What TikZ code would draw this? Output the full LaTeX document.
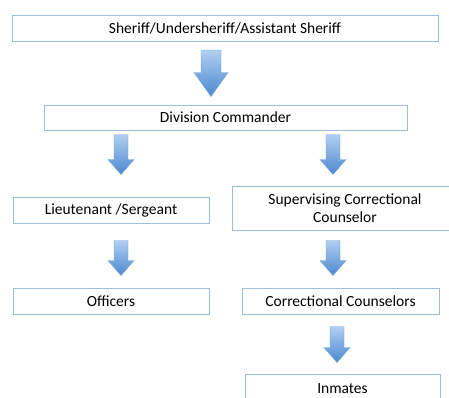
\documentclass[tikz,border=0pt]{standalone}
\usepackage{fontspec}
\setmainfont{Carlito}
\usepackage{tikz}
\usetikzlibrary{calc}
\definecolor{edge}{RGB}{158, 189, 226}
\definecolor{lightblue}{RGB}{176, 206, 242}
\definecolor{darkblue}{RGB}{76, 137, 208}
\definecolor{rim}{RGB}{112, 160, 214}

% block arrow: start, end, half shaft, half head, head length
\newcommand{\flowarrow}[5]{%
  \path[draw=rim, line width=0.4pt, top color=lightblue, bottom color=darkblue]
    let \p1=(#1), \p2=(#2) in
    (\x1-#3,\y1) -- (\x1+#3,\y1) -- (\x1+#3,\y2+#5) -- (\x1+#4,\y2+#5)
    -- (\x1,\y2) -- (\x1-#4,\y2+#5) -- (\x1-#3,\y2+#5) -- cycle;}

\begin{document}
\begin{tikzpicture}[x=1pt, y=-1pt,
    box/.style={draw=edge, line width=1pt, fill=white, inner sep=0pt,
      align=center, font=\fontsize{15.5}{18.5}\selectfont}]
  \path[use as bounding box, clip] (0,0) rectangle (449,397);

  \node[box, minimum width=426, minimum height=26] (sheriff) at (225,28.5) {Sheriff/Undersheriff/Assistant Sheriff};
  \node[box, minimum width=363, minimum height=25] (division) at (225.5,117.5) {Division Commander};

  \node[box, minimum width=196, minimum height=26] (lieutenant) at (111,210) {Lieutenant /Sergeant};
  \node[box, minimum width=226, minimum height=44] (supervising) at (345,208) {Supervising Correctional\\Counselor};

  \node[box, minimum width=196, minimum height=26] (officers) at (111,301) {Officers};
  \node[box, minimum width=197, minimum height=26] (counselors) at (340.5,301) {Correctional Counselors};

  \node[box, minimum width=195, minimum height=30] (inmates) at (342.5,389) {Inmates};

  \flowarrow{$(sheriff.south)+(-14,8)$}{$(division.north)+(-14,-8)$}{10}{17}{24}
  \flowarrow{$(lieutenant.north |- division.south)+(10,4)$}{$(lieutenant.north)+(10,-22)$}{7}{13}{15}
  \flowarrow{$(supervising.north |- division.south)+(-12,4)$}{$(supervising.north)+(-12,-11)$}{7}{13}{15}
  \flowarrow{$(lieutenant.south)+(10,17)$}{$(officers.north)+(10,-12)$}{7}{13}{15}
  \flowarrow{$(supervising.south)+(-12,10)$}{$(counselors.north)+(-7.5,-12)$}{7}{13}{15}
  \flowarrow{$(counselors.south)+(-3.5,12)$}{$(inmates.north)+(-5.5,-11)$}{7}{13}{15}

\end{tikzpicture}
\end{document}
